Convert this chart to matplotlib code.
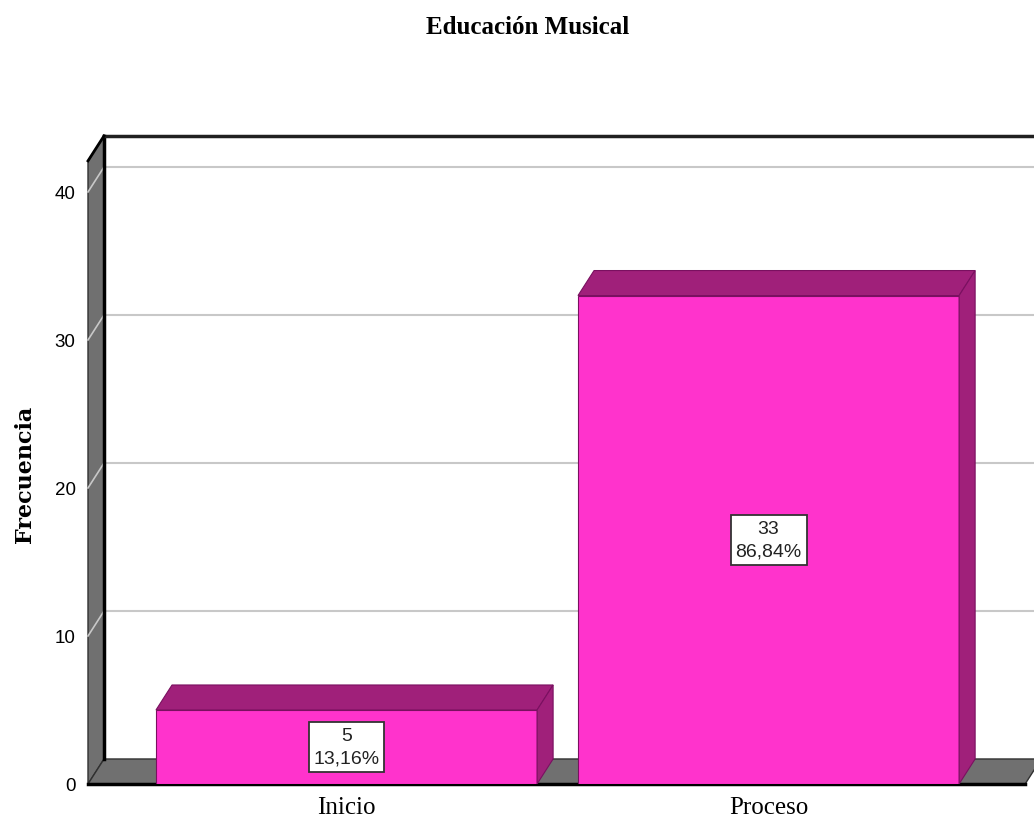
import matplotlib.pyplot as plt
from matplotlib.patches import Polygon, Rectangle

categorias = ['Inicio', 'Proceso']
frecuencias = [5, 33]
yticks = [0, 10, 20, 30, 40]

total = sum(frecuencias)
porcentajes = [('%.2f%%' % (100.0 * f / total)).replace('.', ',') for f in frecuencias]

narrow = ['Liberation Sans Narrow', 'Liberation Sans', 'DejaVu Sans']
serif = ['Liberation Serif', 'DejaVu Serif']

rosa = '#ff33cc'
rosa_osc = '#a0207a'
gris = '#707070'

fig = plt.figure(figsize=(10.34, 8.28), dpi=100)
ax = fig.add_axes([88 / 1034, 43 / 828, (1034 - 88) / 1034, (785 - 137) / 828])
x0, x1 = -0.6126, 1.629
ax.set_xlim(x0, x1)
ax.set_ylim(0, 43.78)
for s in ax.spines.values():
    s.set_visible(False)

# profundidad del efecto 3D
dx, dy = 0.038, 1.69
ytop = 42.1
xr = 1.608
w = 0.903

# pared izquierda
ax.add_patch(Polygon([(x0, 0), (x0, ytop), (x0 + dx, ytop + dy), (x0 + dx, dy)],
                     closed=True, facecolor=gris, edgecolor='#303030', lw=1, zorder=1, clip_on=False))
# suelo
ax.add_patch(Polygon([(x0, 0), (xr, 0), (xr + dx, dy), (x0 + dx, dy)],
                     closed=True, facecolor=gris, edgecolor='#303030', lw=1, zorder=1, clip_on=False))

# lineas de rejilla
for v in yticks[1:]:
    ax.plot([x0, x0 + dx], [v, v + dy], color='#c8c8c8', lw=1.2, zorder=2, clip_on=False)
    ax.plot([x0 + dx, x1 + 0.05], [v + dy, v + dy], color='#c8c8c8', lw=1.5, zorder=2, clip_on=False)

# bordes del marco
ax.plot([x0 + dx, x0 + dx], [dy, ytop + dy], color='black', lw=2.5, zorder=3, clip_on=False)
ax.plot([x0 + dx, x1 + 0.05], [ytop + dy, ytop + dy], color='#202020', lw=2.5, zorder=3, clip_on=False)
ax.plot([x0, x0 + dx], [ytop, ytop + dy], color='black', lw=2, zorder=3, clip_on=False)
ax.plot([x0, xr], [0, 0], color='black', lw=2.5, zorder=3, clip_on=False)

# barras
for i, (f, p) in enumerate(zip(frecuencias, porcentajes)):
    l, r = i - w / 2, i + w / 2
    ax.add_patch(Rectangle((l, 0), w, f, facecolor=rosa, edgecolor='#7a1060', lw=0.8, zorder=5))
    ax.add_patch(Polygon([(l, f), (r, f), (r + dx, f + dy), (l + dx, f + dy)], closed=True,
                         facecolor=rosa_osc, edgecolor='#7a1060', lw=0.8, zorder=5))
    ax.add_patch(Polygon([(r, 0), (r + dx, dy), (r + dx, f + dy), (r, f)], closed=True,
                         facecolor=rosa_osc, edgecolor='#7a1060', lw=0.8, zorder=5))
    ax.text(i, f / 2, '%d\n%s' % (f, p), ha='center', va='center', fontsize=14,
            family=narrow, color='#222222', linespacing=1.45, zorder=6,
            bbox=dict(boxstyle='square,pad=0.25', facecolor='white', edgecolor='#333333', lw=1.3))

ax.set_yticks(yticks)
ax.set_yticklabels([str(t) for t in yticks], family=narrow, fontsize=13.5)
ax.set_xticks(range(len(categorias)))
ax.set_xticklabels(categorias, family=serif, fontsize=18)
ax.tick_params(axis='y', length=0, pad=9)
ax.tick_params(axis='x', length=0, pad=9)

fig.text(25 / 1034, 1 - 474 / 828, 'Frecuencia', rotation=90, ha='center', va='center',
         family=['DejaVu Serif'], fontweight='bold', fontsize=16)
fig.text(528 / 1034, 1 - 28 / 828, 'Educación Musical', ha='center', va='center',
         family=serif, fontweight='bold', fontsize=18)

fig.savefig('out.png', dpi=100)
